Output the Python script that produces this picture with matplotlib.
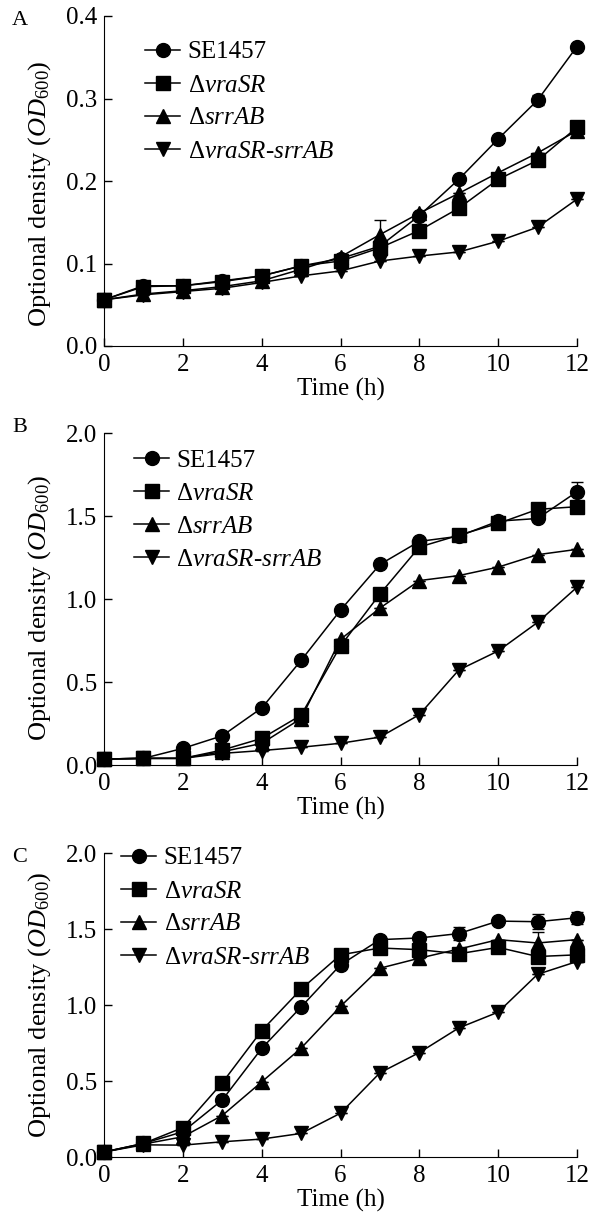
import matplotlib
matplotlib.use('Agg')
import matplotlib.pyplot as plt

plt.rcParams['font.family'] = 'Liberation Serif'
plt.rcParams['mathtext.fontset'] = 'custom'
plt.rcParams['mathtext.rm'] = 'Liberation Serif'
plt.rcParams['mathtext.it'] = 'Liberation Serif:italic'

time = [0, 1, 2, 3, 4, 5, 6, 7, 8, 9, 10, 11, 12]
labels = ['SE1457', r'Δ$\mathit{vraSR}$', r'Δ$\mathit{srrAB}$',
          r'Δ$\mathit{vraSR}$-$\mathit{srrAB}$']
markers = ['o', 's', '^', 'v']

# panel A
a_se = [0.056, 0.073, 0.073, 0.079, 0.085, 0.097, 0.106, 0.121, 0.158, 0.202, 0.251, 0.298, 0.363]
a_vra = [0.056, 0.072, 0.073, 0.078, 0.085, 0.097, 0.103, 0.119, 0.140, 0.167, 0.202, 0.225, 0.265]
a_srr = [0.056, 0.063, 0.067, 0.072, 0.079, 0.093, 0.108, 0.135, 0.161, 0.185, 0.210, 0.234, 0.261]
a_dbl = [0.056, 0.062, 0.066, 0.070, 0.077, 0.085, 0.091, 0.103, 0.109, 0.114, 0.127, 0.144, 0.178]
a_err_se = [0, 0, 0, 0, 0, 0, 0, 0, 0, 0, 0, 0.006, 0]
a_err_vra = [0, 0, 0, 0, 0, 0, 0, 0, 0, 0, 0, 0, 0.007]
a_err_srr = [0, 0, 0, 0, 0, 0, 0, 0.018, 0, 0, 0, 0, 0]
a_err_dbl = [0] * 13

# panel B
b_se = [0.036, 0.040, 0.100, 0.176, 0.343, 0.630, 0.933, 1.208, 1.347, 1.378, 1.469, 1.485, 1.646]
b_vra = [0.036, 0.040, 0.040, 0.090, 0.160, 0.300, 0.717, 1.030, 1.313, 1.384, 1.455, 1.540, 1.556]
b_srr = [0.036, 0.040, 0.040, 0.080, 0.130, 0.280, 0.757, 0.945, 1.111, 1.141, 1.192, 1.267, 1.299]
b_dbl = [0.036, 0.040, 0.040, 0.070, 0.087, 0.107, 0.131, 0.168, 0.303, 0.572, 0.687, 0.859, 1.071]
b_err_se = [0, 0, 0, 0, 0, 0, 0, 0, 0, 0, 0, 0, 0.06]
b_err_vra = [0] * 13
b_err_srr = [0] * 13
b_err_dbl = [0] * 13

# panel C
c_se = [0.033, 0.089, 0.166, 0.375, 0.714, 0.987, 1.264, 1.430, 1.441, 1.470, 1.552, 1.548, 1.574]
c_vra = [0.033, 0.089, 0.193, 0.488, 0.831, 1.104, 1.330, 1.375, 1.364, 1.337, 1.379, 1.319, 1.330]
c_srr = [0.033, 0.085, 0.133, 0.273, 0.494, 0.716, 0.991, 1.242, 1.308, 1.368, 1.430, 1.408, 1.430]
c_dbl = [0.033, 0.080, 0.078, 0.100, 0.118, 0.155, 0.288, 0.554, 0.687, 0.849, 0.953, 1.202, 1.286]
c_err_se = [0, 0, 0, 0, 0, 0, 0, 0, 0, 0.04, 0, 0.05, 0.04]
c_err_vra = [0] * 13
c_err_srr = [0, 0, 0, 0, 0, 0, 0, 0, 0, 0, 0, 0.07, 0]
c_err_dbl = [0] * 13

W, H = 592, 1213
x0, x1 = 104, 577   # axes left / right in pixels

# name, data, errors, ymax, yticks, axes top/bottom px, legend (x px, top px), ylabel centre, letter top px
panels = [
    ('A', [a_se, a_vra, a_srr, a_dbl], [a_err_se, a_err_vra, a_err_srr, a_err_dbl],
     0.4, [0.0, 0.1, 0.2, 0.3, 0.4], (16, 346), (145, 41), 0.46, 11),
    ('B', [b_se, b_vra, b_srr, b_dbl], [b_err_se, b_err_vra, b_err_srr, b_err_dbl],
     2.0, [0.0, 0.5, 1.0, 1.5, 2.0], (433, 765), (134, 449), 0.475, 418),
    ('C', [c_se, c_vra, c_srr, c_dbl], [c_err_se, c_err_vra, c_err_srr, c_err_dbl],
     2.0, [0.0, 0.5, 1.0, 1.5, 2.0], (853, 1157), (121, 847), 0.5, 848),
]

fig = plt.figure(figsize=(W / 100, H / 100), dpi=100)
for name, series, errs, ymax, yticks, (top, bot), (lx, ly), ylc, lt in panels:
    ax = fig.add_axes([x0 / W, 1 - bot / H, (x1 - x0) / W, (bot - top) / H])
    for vals, err, m, lab in zip(series, errs, markers, labels):
        ax.errorbar(time, vals, yerr=err, marker=m, color='black', markersize=10,
                    linewidth=1.1, elinewidth=1.0, capsize=4, capthick=1.0,
                    label=lab, clip_on=False)
    ax.set_xlim(0, 12)
    ax.set_ylim(0, ymax)
    ax.set_xticks([0, 2, 4, 6, 8, 10, 12])
    ax.set_yticks(yticks)
    ax.set_yticklabels(['%.1f' % v for v in yticks])
    ax.spines['top'].set_visible(False)
    ax.spines['right'].set_visible(False)
    ax.tick_params(direction='in', length=6, width=1, labelsize=18)
    ax.tick_params(axis='x', pad=6)
    ax.tick_params(axis='y', pad=5)
    ax.set_xlabel('Time (h)', fontsize=18, labelpad=1)
    ax.set_ylabel(r'Optional density ($\mathit{OD}_{600}$)', fontsize=19)
    ax.yaxis.set_label_coords(-0.108, ylc)
    h, l = ax.get_legend_handles_labels()
    h = [x[0] for x in h]
    ax.legend(h, l, loc='upper left',
              bbox_to_anchor=((lx - x0) / (x1 - x0), (bot - ly) / (bot - top)),
              frameon=False, fontsize=18, handlelength=1.4, handletextpad=0.3,
              labelspacing=0.42, borderaxespad=0, borderpad=0)
    fig.text(12 / W, 1 - lt / H, name, fontsize=16, va='top', ha='left')

fig.savefig('out.png', dpi=100)
